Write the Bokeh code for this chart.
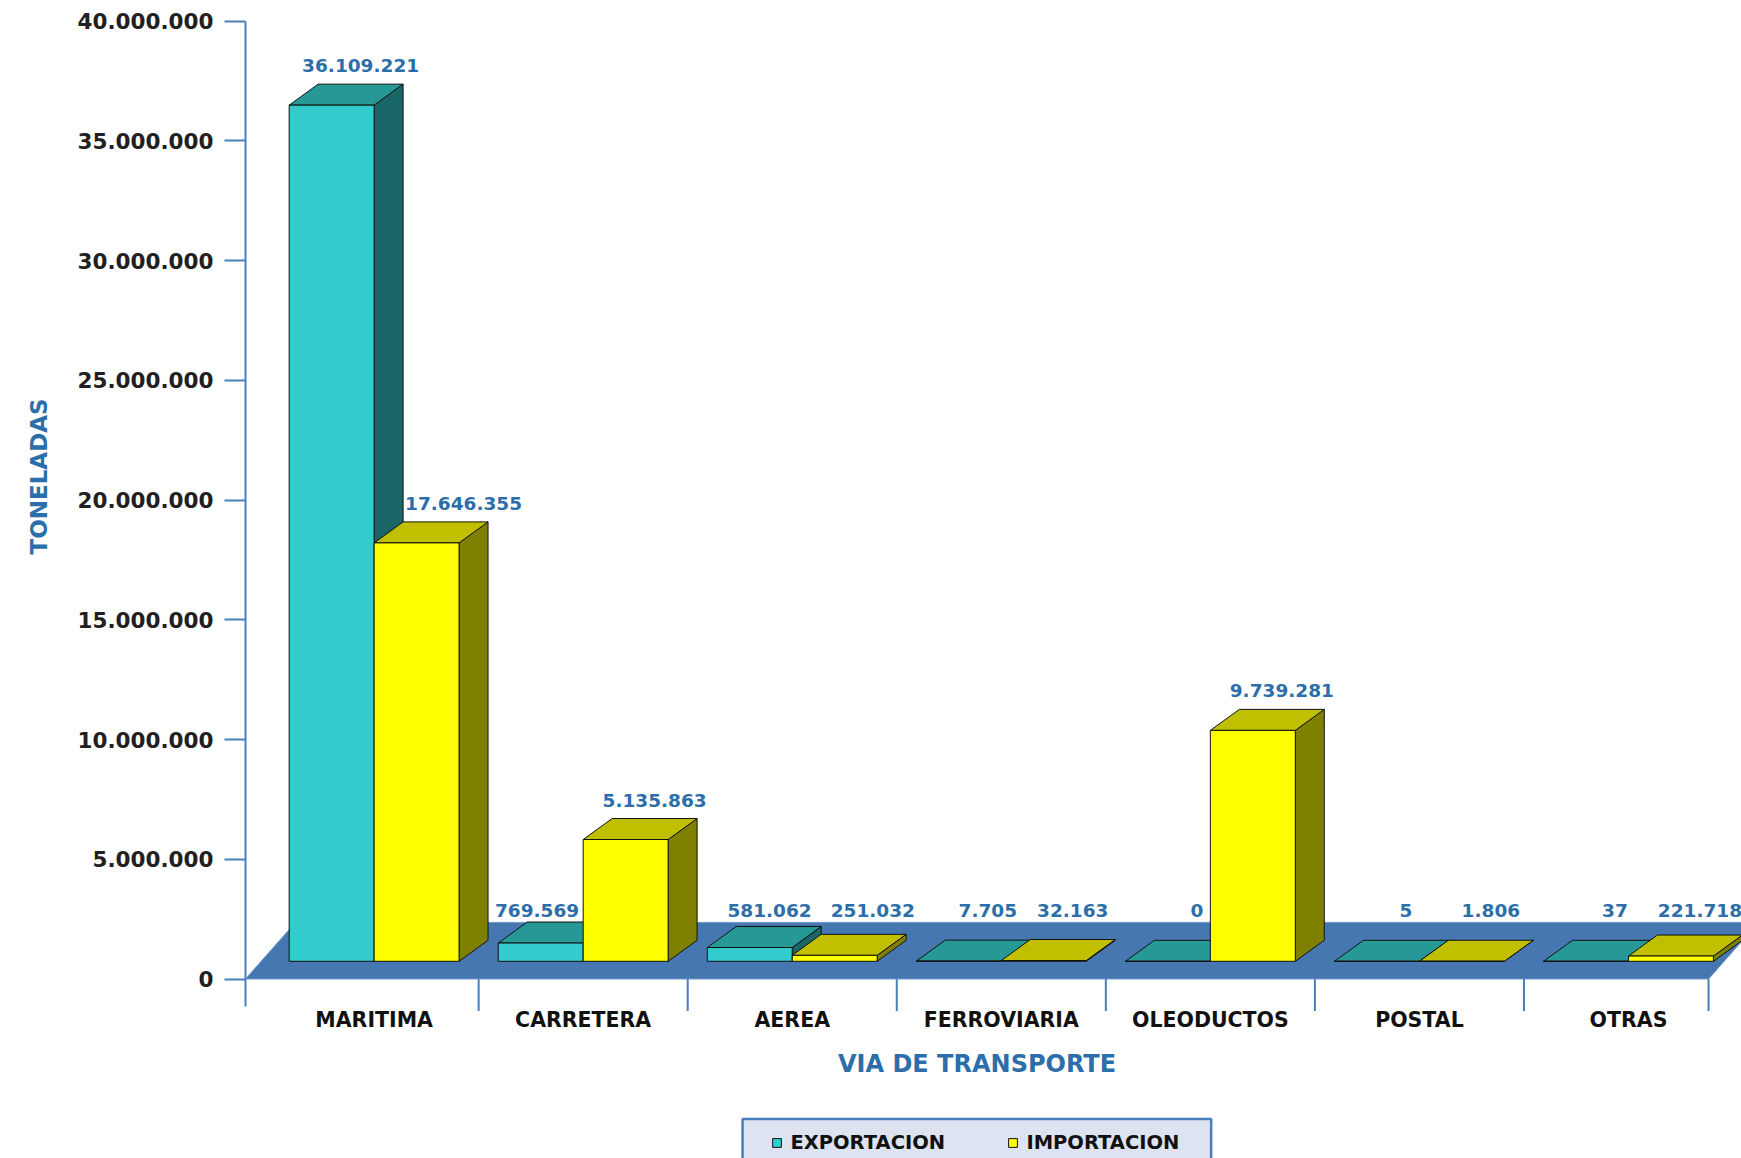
import math
from bokeh.plotting import figure
from bokeh.models import Range1d, FixedTicker, Legend, LegendItem, Title, Label, ColumnDataSource
from bokeh.core.properties import value
from bokeh.embed import file_html
from bokeh.resources import INLINE

# ---------------- data ----------------
CATEGORIES = ["MARITIMA", "CARRETERA", "AEREA", "FERROVIARIA", "OLEODUCTOS", "POSTAL", "OTRAS"]
EXPORTACION = [36109221, 769569, 581062, 7705, 0, 5, 37]
IMPORTACION = [17646355, 5135863, 251032, 32163, 9739281, 1806, 221718]
Y_TICKS = [0, 5000000, 10000000, 15000000, 20000000, 25000000, 30000000, 35000000, 40000000]
SERIES_NAMES = ["EXPORTACION", "IMPORTACION"]
Y_TITLE = "TONELADAS"
X_TITLE = "VIA DE TRANSPORTE"

# ---------------- layout / style ----------------
W, H = 1741, 1158
LEFT = 244
ZERO_PX, TOP_PX = 978.5, 20.5            # pixel rows of 0 and 40.000.000
Y_MAX = 40000000
PX_Y = Y_MAX / (ZERO_PX - TOP_PX)        # data units per pixel (vertical)
Y_LO = -(H - ZERO_PX) * PX_Y
Y_HI = Y_MAX + TOP_PX * PX_Y
X_START, X_END = -0.6152, 6.5406
PX_X = (X_END - X_START) / (W - LEFT)    # data units per pixel (horizontal)
BAR_W = 85 * PX_X
DEPTH_X = 29 * PX_X
DEPTH_Y = 21 * PX_Y
BASE_Y = 17.7 * PX_Y
PROJ = 0.99
FLOOR_RIGHT = 6.383
FLOOR_DX = 50 * PX_X
FLOOR_DY = 56.6 * PX_Y
VAL_FONT_PX = 18.5
X_TITLE_POS = 2.884
LEGEND_BOX_PX = (741.4, 1210.3, 1118.6, 1175)   # left, right, top, bottom (page pixels)

AXIS_BLUE = "#4A7EBB"
FLOOR_BLUE = "#4677B0"
TITLE_BLUE = "#2C6EAA"
FONT = "DejaVu Sans"

EXP_COLORS = ("#33CCCC", "#269996", "#1A6666")   # front, top, side
IMP_COLORS = ("#FFFF00", "#C0C000", "#808000")


def fmt(v):
    return f"{int(v):,}".replace(",", ".")


def text_w(s):
    return sum(0.38 if c == "." else 0.696 for c in s) * VAL_FONT_PX * PX_X


def px_x(px):
    return X_START + (px - LEFT) * PX_X


def px_y(py):
    return (ZERO_PX - py) * PX_Y


p = figure(width=W, height=H, output_backend="svg", toolbar_location=None,
           x_range=Range1d(X_START, X_END), y_range=Range1d(Y_LO, Y_HI),
           x_axis_location=None,
           min_border_left=LEFT, min_border_right=0, min_border_top=0, min_border_bottom=0)
p.grid.visible = False
p.outline_line_color = None
p.background_fill_color = "white"
p.border_fill_color = "white"

# y axis (library axis, limited to the value span plus a short stub below 0)
ya = p.yaxis[0]
ya.ticker = FixedTicker(ticks=Y_TICKS)
ya.bounds = (-27 * PX_Y, Y_MAX)
ya.major_label_overrides = {t: fmt(t) for t in Y_TICKS}
ya.axis_line_color = AXIS_BLUE
ya.axis_line_width = 2
ya.major_tick_line_color = AXIS_BLUE
ya.major_tick_line_width = 2
ya.major_tick_out = 21
ya.major_tick_in = 0
ya.minor_tick_line_color = None
ya.major_label_standoff = 11
ya.major_label_text_font = FONT
ya.major_label_text_font_style = "bold"
ya.major_label_text_font_size = "21.5px"
ya.major_label_text_color = "#231F20"

# floor
p.patch([X_START, FLOOR_RIGHT, FLOOR_RIGHT + FLOOR_DX, X_START + FLOOR_DX],
        [0, 0, FLOOR_DY, FLOOR_DY], fill_color=FLOOR_BLUE, line_color="#6F9BD0", line_width=1)

# category axis: separators + labels
idx = list(range(len(CATEGORIES)))
seps = [i + 0.5 for i in idx[:-1]] + [FLOOR_RIGHT]
p.segment(x0=seps, y0=[0] * len(seps), x1=seps, y1=[-32 * PX_Y] * len(seps),
          line_color=AXIS_BLUE, line_width=2)
p.text(x=idx, y=[-40.5 * PX_Y] * len(idx), text=CATEGORIES, text_align="center",
       text_baseline="middle", text_font=value(FONT), text_font_style="bold",
       text_font_size="20.5px", text_color="#111111")


def faces(x0, v):
    x1 = x0 + BAR_W
    y0 = BASE_Y
    y1 = BASE_Y + v * PROJ
    front = ([x0, x1, x1, x0], [y0, y0, y1, y1])
    top = ([x0, x1, x1 + DEPTH_X, x0 + DEPTH_X], [y1, y1, y1 + DEPTH_Y, y1 + DEPTH_Y])
    side = ([x1, x1 + DEPTH_X, x1 + DEPTH_X, x1], [y0, y0 + DEPTH_Y, y1 + DEPTH_Y, y1])
    return front, top, side


front_renderers = []
for s, (vals, cols) in enumerate([(EXPORTACION, EXP_COLORS), (IMPORTACION, IMP_COLORS)]):
    F = {"front": ([], []), "top": ([], []), "side": ([], [])}
    for i, v in zip(idx, vals):
        x0 = i - BAR_W if s == 0 else i
        fr, tp, sd = faces(x0, v)
        for key, f in (("front", fr), ("top", tp), ("side", sd)):
            F[key][0].append(f[0])
            F[key][1].append(f[1])
    p.patches(F["side"][0], F["side"][1], fill_color=cols[2], line_color="#111111", line_width=1)
    p.patches(F["top"][0], F["top"][1], fill_color=cols[1], line_color="#111111", line_width=1)
    r = p.patches(F["front"][0], F["front"][1], fill_color=cols[0], line_color="#111111", line_width=1)
    front_renderers.append(r)


def label_y(top):
    # labels of bars that barely rise above the floor stay on one common row
    if top > FLOOR_DY + 3 * PX_Y:
        return top + 18.5 * PX_Y
    return FLOOR_DY + 11.7 * PX_Y


# value labels, nudged sideways so that they do not run into a neighbouring bar or label
lx, ly, lt = [], [], []
for i, ve, vi in zip(idx, EXPORTACION, IMPORTACION):
    te, ti = fmt(ve), fmt(vi)
    we, wi = text_w(te), text_w(ti)
    top_e = BASE_Y + ve * PROJ + DEPTH_Y
    top_i = BASE_Y + vi * PROJ + DEPTH_Y
    ye = label_y(top_e)
    yi = label_y(top_i)
    ce = i - BAR_W / 2 + DEPTH_X
    ci = i + BAR_W / 2 + DEPTH_X
    if top_i > ye - 14 * PX_Y:
        ce = min(ce, i - 4 * PX_X - we / 2)
    if top_e > yi - 14 * PX_Y:
        ci = max(ci, i + DEPTH_X + 2 * PX_X + wi / 2)
    if abs(ye - yi) < 20 * PX_Y:
        gap = (ci - wi / 2) - (ce + we / 2)
        need = 19 * PX_X
        if gap < need:
            ce -= (need - gap) / 2
            ci += (need - gap) / 2
    lx += [ce, ci]
    ly += [ye, yi]
    lt += [te, ti]

src = ColumnDataSource(dict(x=lx, y=ly, t=lt))
p.text(x="x", y="y", text="t", source=src, text_align="center", text_baseline="alphabetic",
       text_font=value(FONT), text_font_style="bold", text_font_size=f"{VAL_FONT_PX}px",
       text_color=TITLE_BLUE)

# axis titles
p.add_layout(Title(text=Y_TITLE, align="left", offset=H - 554, standoff=46,
                   text_font=FONT, text_font_style="bold", text_font_size="23px",
                   text_color=TITLE_BLUE), "left")
p.add_layout(Label(x=X_TITLE_POS, y=-85 * PX_Y, text=X_TITLE, text_align="center",
                   text_baseline="middle", text_font=FONT, text_font_style="bold",
                   text_font_size="24px", text_color=TITLE_BLUE))

# legend frame (box) and legend entries
bl, br, bt, bb = LEGEND_BOX_PX
p.quad(left=[px_x(bl)], right=[px_x(br)], top=[px_y(bt)], bottom=[px_y(bb)],
       fill_color="#DDE3F0", line_color=AXIS_BLUE, line_width=2.5)
legend = Legend(items=[LegendItem(label=n, renderers=[r]) for n, r in zip(SERIES_NAMES, front_renderers)],
                orientation="horizontal", location=(511.4, -10.5), padding=15, margin=0, spacing=50,
                label_standoff=8, glyph_width=11, glyph_height=11, label_width=167,
                border_line_alpha=0, background_fill_alpha=0,
                label_text_font=FONT, label_text_font_style="bold", label_text_font_size="19.5px",
                label_text_color="#111111")
p.add_layout(legend)

open("out.html", "w").write(file_html(p, INLINE))
